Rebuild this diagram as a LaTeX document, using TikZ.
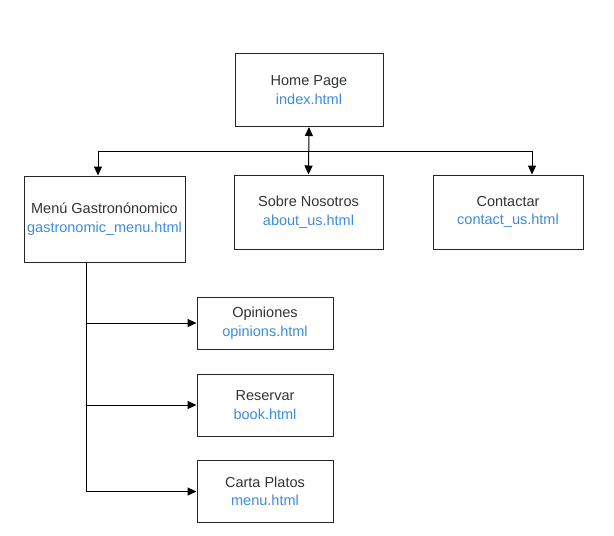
\documentclass[tikz,border=0pt]{standalone}
\usepackage{fontspec}
\setmainfont{Liberation Sans}
\usetikzlibrary{arrows.meta}
\definecolor{ttl}{HTML}{333333}
\definecolor{lnk}{HTML}{3D8BE0}
\tikzset{
  page/.style={draw=black!85, line width=1pt, fill=white, align=center, inner sep=0pt,
    font=\fontsize{14.5}{18.5}\selectfont, text=ttl},
  conn/.style={line width=1pt, black},
  arr/.style={conn, -{Triangle[length=9pt,width=8pt]}},
  darr/.style={conn, {Triangle[length=9pt,width=8pt]}-{Triangle[length=9pt,width=8pt]}}
}
\newcommand{\pg}[2]{#1\\\textcolor{lnk}{#2}}
\begin{document}
\begin{tikzpicture}[x=1pt,y=-1pt]
\useasboundingbox (0,0) rectangle (614,536);
\fill[white] (0,0) rectangle (614,536);
\node[page, minimum width=148pt, minimum height=73pt] (home) at (309,90) {\pg{Home Page}{index.html}};
\node[page, minimum width=161pt, minimum height=86pt] (menu) at (104.5,219) {\pg{Menú Gastronónomico}{gastronomic\_menu.html}};
\node[page, minimum width=149pt, minimum height=74pt] (about) at (308.5,212) {\pg{Sobre Nosotros}{about\_us.html}};
\node[page, minimum width=150pt, minimum height=74pt] (contact) at (508,212) {\pg{Contactar}{contact\_us.html}};
\node[page, minimum width=136pt, minimum height=52pt] (opin) at (265,323) {\pg{Opiniones}{opinions.html}};
\node[page, minimum width=136pt, minimum height=62pt] (book) at (265,405) {\pg{Reservar}{book.html}};
\node[page, minimum width=136pt, minimum height=62pt] (carta) at (265,491.5) {\pg{Carta Platos}{menu.html}};
\coordinate (j) at (309,151);
\coordinate (mtop) at ([xshift=-6.5pt]menu.north);
\coordinate (ctop) at ([xshift=24pt]contact.north);
\coordinate (mbot) at ([xshift=-18.5pt]menu.south);
\draw[darr] (home.south) -- (about.north);
\draw[arr] (j) -| (mtop);
\draw[arr] (j) -| (ctop);
\draw[arr] (mbot) |- (opin.west);
\draw[arr] (mbot) |- (book.west);
\draw[arr] (mbot) |- (carta.west);
\end{tikzpicture}
\end{document}
